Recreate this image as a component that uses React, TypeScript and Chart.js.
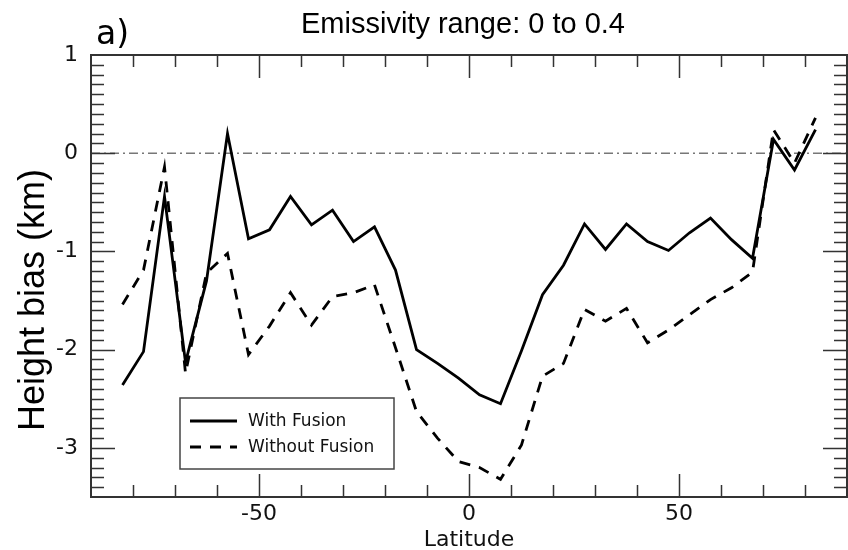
import { useEffect, useRef } from "react";
import { Chart, registerables } from "chart.js";

Chart.register(...registerables);

// ---- data ----
const latitudes = [
  -82.5, -77.5, -72.5, -67.5, -62.5, -57.5, -52.5, -47.5, -42.5, -37.5, -32.5, -27.5,
  -22.5, -17.5, -12.5, -7.5, -2.5, 2.5, 7.5, 12.5, 17.5, 22.5, 27.5, 32.5, 37.5, 42.5,
  47.5, 52.5, 57.5, 62.5, 67.5, 72.5, 77.5, 82.5,
];
const withFusion = [
  -2.36, -2.02, -0.44, -2.13, -1.3, 0.2, -0.87, -0.78, -0.44, -0.73, -0.58, -0.9,
  -0.75, -1.19, -2.0, -2.14, -2.29, -2.46, -2.55, -2.01, -1.44, -1.14, -0.72, -0.98,
  -0.72, -0.9, -0.99, -0.81, -0.66, -0.88, -1.07, 0.14, -0.17, 0.24,
];
const withoutFusion = [
  -1.54, -1.19, -0.14, -2.24, -1.22, -1.02, -2.05, -1.76, -1.42, -1.75, -1.46, -1.42,
  -1.34, -1.98, -2.63, -2.9, -3.14, -3.2, -3.32, -2.97, -2.27, -2.14, -1.59, -1.71,
  -1.58, -1.93, -1.8, -1.645, -1.49, -1.37, -1.21, 0.24, -0.1, 0.36,
];
const seriesLabels = ["With Fusion", "Without Fusion"];
const xRange = [-90, 90];
const yRange = [-3.5, 1];
const xTickLabels = [-50, 0, 50];
const yTickLabels = [-3, -2, -1, 0, 1];
const zeroLineX = [-90, 90];
const zeroLineY = [0, 0];
const xMinorStep = 10;
const xMajorStep = 50;
const yMinorStep = 0.1;
const yMajorStep = 1;

const titleText = "Emissivity range: 0 to 0.4";
const panelText = "a)";
const xTitle = "Latitude";
const yTitle = "Height bias (km)";

const DEJAVU = "'DejaVu Sans', sans-serif";
const HELV = "'Liberation Sans', Arial, sans-serif";

const framePlugin = {
  id: "framePlugin",
  afterDraw(chart: any) {
    const { ctx, chartArea: a, scales } = chart;
    const xs = scales.x;
    const ys = scales.y;
    ctx.save();
    // inward ticks
    ctx.strokeStyle = "#333";
    ctx.lineWidth = 1.5;
    ctx.beginPath();
    const nx = Math.round((xRange[1] - xRange[0]) / xMinorStep);
    for (let i = 1; i < nx; i++) {
      const v = xRange[0] + i * xMinorStep;
      const major = Math.abs(v / xMajorStep - Math.round(v / xMajorStep)) < 1e-6;
      const len = major ? 23 : 12;
      const px = Math.round(xs.getPixelForValue(v)) + 0.5;
      ctx.moveTo(px, a.bottom);
      ctx.lineTo(px, a.bottom - len);
      ctx.moveTo(px, a.top);
      ctx.lineTo(px, a.top + len);
    }
    const ny = Math.round((yRange[1] - yRange[0]) / yMinorStep);
    for (let i = 1; i < ny; i++) {
      const v = yRange[0] + i * yMinorStep;
      const major = Math.abs(v / yMajorStep - Math.round(v / yMajorStep)) < 1e-6;
      const len = major ? 24 : 13;
      const py = Math.round(ys.getPixelForValue(v)) + 0.5;
      ctx.moveTo(a.left, py);
      ctx.lineTo(a.left + len, py);
      ctx.moveTo(a.right, py);
      ctx.lineTo(a.right - len, py);
    }
    ctx.stroke();
    // frame
    ctx.lineWidth = 2;
    ctx.strokeStyle = "#333";
    ctx.strokeRect(a.left, a.top, a.right - a.left, a.bottom - a.top);

    // legend
    const lx = 180, ly = 398, lw = 214, lh = 71;
    ctx.fillStyle = "#fff";
    ctx.fillRect(lx, ly, lw, lh);
    ctx.lineWidth = 1.5;
    ctx.strokeStyle = "#444";
    ctx.strokeRect(lx, ly, lw, lh);
    const rows = [421, 447];
    const ds = chart.data.datasets.filter((d: any) => seriesLabels.includes(d.label));
    ds.forEach((d: any, i: number) => {
      ctx.beginPath();
      ctx.setLineDash(d.borderDash || []);
      ctx.lineDashOffset = 0;
      ctx.strokeStyle = d.borderColor;
      ctx.lineWidth = d.borderWidth;
      ctx.moveTo(190, rows[i]);
      ctx.lineTo(237, rows[i]);
      ctx.stroke();
      ctx.setLineDash([]);
      ctx.fillStyle = "#111";
      ctx.font = `17px ${DEJAVU}`;
      ctx.textAlign = "left";
      ctx.textBaseline = "middle";
      ctx.fillText(d.label, 248, rows[i] + 1);
    });

    // texts
    ctx.fillStyle = "#000";
    ctx.font = `29px ${HELV}`;
    ctx.textAlign = "center";
    ctx.textBaseline = "alphabetic";
    ctx.fillText(titleText, 463, 33);

    ctx.font = `33px ${DEJAVU}`;
    ctx.textAlign = "left";
    ctx.fillText(panelText, 96, 44);

    ctx.font = `22px ${DEJAVU}`;
    ctx.textAlign = "center";
    ctx.fillStyle = "#111";
    ctx.fillText(xTitle, (a.left + a.right) / 2, 546);

    ctx.save();
    ctx.translate(44, 300);
    ctx.rotate(-Math.PI / 2);
    ctx.font = `36px ${HELV}`;
    ctx.fillStyle = "#000";
    ctx.textAlign = "center";
    ctx.textBaseline = "alphabetic";
    ctx.fillText(yTitle, 0, 0);
    ctx.restore();

    ctx.restore();
  },
};

export default function App() {
  const ref = useRef<HTMLCanvasElement | null>(null);
  useEffect(() => {
    if (!ref.current) return;
    const chart = new Chart(ref.current, {
      type: "line",
      data: {
        datasets: [
          {
            label: "zero",
            data: zeroLineX.map((x, i) => ({ x, y: zeroLineY[i] })),
            borderColor: "#777",
            borderWidth: 1.5,
            borderDash: [9, 4, 2, 4],
            pointRadius: 0,
            order: 3,
          },
          {
            label: seriesLabels[0],
            data: latitudes.map((x, i) => ({ x, y: withFusion[i] })),
            borderColor: "#000",
            borderWidth: 2.8,
            pointRadius: 0,
            tension: 0,
            order: 1,
          },
          {
            label: seriesLabels[1],
            data: latitudes.map((x, i) => ({ x, y: withoutFusion[i] })),
            borderColor: "#000",
            borderWidth: 2.8,
            borderDash: [11, 9],
            pointRadius: 0,
            tension: 0,
            order: 2,
          },
        ],
      },
      options: {
        animation: false,
        responsive: false,
        devicePixelRatio: 1,
        layout: { padding: { top: 55, right: 1, left: 0, bottom: 0 } },
        plugins: {
          legend: { display: false },
          tooltip: { enabled: false },
          title: { display: false },
        },
        scales: {
          x: {
            type: "linear",
            min: xRange[0],
            max: xRange[1],
            afterBuildTicks: (s: any) => {
              s.ticks = xTickLabels.map((v) => ({ value: v }));
            },
            afterFit: (s: any) => {
              s.height = 53;
            },
            grid: { display: false, drawTicks: false },
            border: { display: false },
            ticks: {
              color: "#111",
              padding: 4,
              maxRotation: 0,
              autoSkip: false,
              font: { family: DEJAVU, size: 22, lineHeight: 1.2 },
              callback: (v: any) => String(v),
            },
          },
          y: {
            type: "linear",
            min: yRange[0],
            max: yRange[1],
            afterBuildTicks: (s: any) => {
              s.ticks = yTickLabels.map((v) => ({ value: v }));
            },
            afterFit: (s: any) => {
              s.width = 91;
            },
            grid: { display: false, drawTicks: false },
            border: { display: false },
            ticks: {
              color: "#111",
              padding: 13,
              autoSkip: false,
              font: { family: DEJAVU, size: 22, lineHeight: 1.2 },
              callback: (v: any) => String(v),
            },
          },
        },
      },
      plugins: [framePlugin],
    });
    return () => chart.destroy();
  }, []);
  return (
    <div style={{ position: "fixed", left: 0, top: 0, width: 848, height: 550, background: "#fff" }}>
      <canvas ref={ref} width={848} height={550} style={{ display: "block", width: 848, height: 550 }} />
    </div>
  );
}
